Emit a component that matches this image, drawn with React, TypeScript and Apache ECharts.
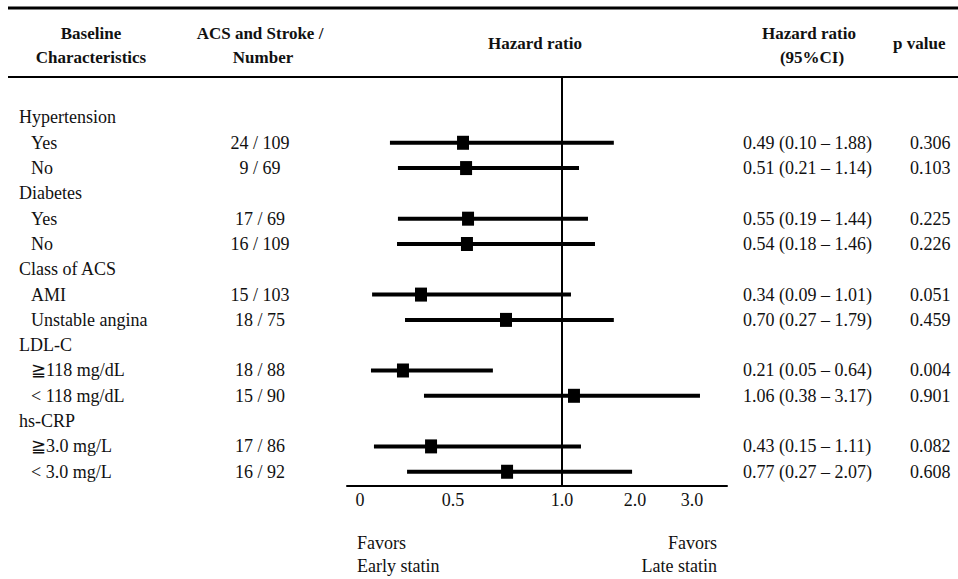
import React, { useEffect, useRef } from "react";
import * as echarts from "echarts";

// ---- Data ----
const groupNames = ["Hypertension", "Diabetes", "Class of ACS", "LDL-C", "hs-CRP"];
const subgroupNames = [
  "Yes", "No",
  "Yes", "No",
  "AMI", "Unstable angina",
  "≧118 mg/dL", "< 118 mg/dL",
  "≧3.0 mg/L", "< 3.0 mg/L",
];
const eventsNumber = [
  "24 / 109", "9 / 69", "17 / 69", "16 / 109", "15 / 103",
  "18 / 75", "18 / 88", "15 / 90", "17 / 86", "16 / 92",
];
const hrText = [
  "0.49 (0.10 – 1.88)", "0.51 (0.21 – 1.14)", "0.55 (0.19 – 1.44)",
  "0.54 (0.18 – 1.46)", "0.34 (0.09 – 1.01)", "0.70 (0.27 – 1.79)",
  "0.21 (0.05 – 0.64)", "1.06 (0.38 – 3.17)", "0.43 (0.15 – 1.11)",
  "0.77 (0.27 – 2.07)",
];
const pValues = [
  "0.306", "0.103", "0.225", "0.226", "0.051",
  "0.459", "0.004", "0.901", "0.082", "0.608",
];
// positions of the drawn marks, read against the drawn hazard-ratio axis
const hrMarker = [0.546, 0.56, 0.569, 0.564, 0.328, 0.743, 0.231, 1.164, 0.382, 0.748];
const ciLow = [0.161, 0.204, 0.204, 0.199, 0.065, 0.242, 0.059, 0.344, 0.075, 0.253];
const ciHigh = [1.71, 1.233, 1.356, 1.452, 1.123, 1.71, 0.683, 3.14, 1.26, 1.96];
// axis tick labels of the hand-drawn hazard-ratio axis
const tickValues = [0, 0.5, 1.0, 2.0, 3.0];
const tickLabels = ["0", "0.5", "1.0", "2.0", "3.0"];

// ---- scale of the drawn axis (piecewise; tick value -> axis units) ----
const tickUnits = [0, 93, 202, 275, 332];
function toAxis(v: number): number {
  for (let i = 0; i < tickValues.length - 1; i++) {
    if (v <= tickValues[i + 1] || i === tickValues.length - 2) {
      const t = (v - tickValues[i]) / (tickValues[i + 1] - tickValues[i]);
      return tickUnits[i] + t * (tickUnits[i + 1] - tickUnits[i]);
    }
  }
  return 0;
}

const FONT = "'Liberation Serif', 'Times New Roman', serif";
const headingRows = groupNames.map((_, g) => g * 3);
const subRows = subgroupNames.map((_, i) => Math.floor(i / 2) * 3 + 1 + (i % 2));

export default function App() {
  const ref = useRef<HTMLDivElement>(null);
  useEffect(() => {
    if (!ref.current) return;
    const chart = echarts.init(ref.current, null, { renderer: "svg" });

    const yBase = {
      type: "value" as const,
      min: -1.56,
      max: 14.565,
      inverse: true,
      gridIndex: 0,
      axisLine: { show: false },
      axisTick: { show: false },
      splitLine: { show: false },
    };
    const lbl = { fontFamily: FONT, fontSize: 18, color: "#111" };

    const forestData = hrMarker.map((m, i) => [
      toAxis(ciLow[i]),
      toAxis(ciHigh[i]),
      toAxis(m),
      subRows[i],
    ]);

    const option: any = {
      animation: false,
      backgroundColor: "#fff",
      grid: { left: 347, top: 78, width: 380, height: 408, containLabel: false },
      xAxis: {
        type: "value",
        min: -13,
        max: 367,
        position: "bottom",
        axisLine: { show: true, onZero: false, lineStyle: { color: "#000", width: 2 } },
        axisTick: { show: false },
        splitLine: { show: false },
        axisLabel: {
          ...lbl,
          margin: 5,
          customValues: tickValues.map(toAxis),
          formatter: (v: number) => {
            let best = 0;
            tickValues.forEach((t, i) => {
              if (Math.abs(toAxis(t) - v) < Math.abs(toAxis(tickValues[best]) - v)) best = i;
            });
            return tickLabels[best];
          },
        },
      },
      yAxis: [
        {
          ...yBase,
          position: "left",
          axisLabel: {
            ...lbl, align: "left", margin: 328,
            customValues: headingRows,
            formatter: (v: number) => groupNames[Math.round(v / 3)] ?? "",
          },
        },
        {
          ...yBase,
          position: "left",
          axisLabel: {
            ...lbl, align: "left", margin: 316,
            customValues: subRows,
            formatter: (v: number) => subgroupNames[subRows.indexOf(Math.round(v))] ?? "",
          },
        },
        {
          ...yBase,
          position: "left",
          axisLabel: {
            ...lbl, align: "center", margin: 87,
            customValues: subRows,
            formatter: (v: number) => eventsNumber[subRows.indexOf(Math.round(v))] ?? "",
          },
        },
        {
          ...yBase,
          position: "right",
          axisLabel: {
            ...lbl, align: "left", margin: 16,
            customValues: subRows,
            formatter: (v: number) => hrText[subRows.indexOf(Math.round(v))] ?? "",
          },
        },
        {
          ...yBase,
          position: "right",
          axisLabel: {
            ...lbl, align: "left", margin: 183,
            customValues: subRows,
            formatter: (v: number) => pValues[subRows.indexOf(Math.round(v))] ?? "",
          },
        },
      ],
      series: [
        {
          type: "custom",
          xAxisIndex: 0,
          yAxisIndex: 0,
          encode: { x: [0, 1, 2], y: 3 },
          data: forestData,
          silent: true,
          renderItem: (params: any, api: any) => {
            const row = api.value(3);
            const pLo = api.coord([api.value(0), row]);
            const pHi = api.coord([api.value(1), row]);
            const pM = api.coord([api.value(2), row]);
            return {
              type: "group",
              children: [
                {
                  type: "line",
                  shape: { x1: pLo[0], y1: pLo[1], x2: pHi[0], y2: pHi[1] },
                  style: { stroke: "#000", lineWidth: 4 },
                },
                {
                  type: "rect",
                  shape: { x: pM[0] - 6, y: pM[1] - 7, width: 12, height: 14 },
                  style: { fill: "#000" },
                },
              ],
            };
          },
          markLine: {
            silent: true,
            symbol: "none",
            label: { show: false },
            lineStyle: { color: "#000", width: 2, type: "solid" },
            data: [{ xAxis: toAxis(1.0) }],
          },
        },
      ],
      graphic: [
        { type: "line", shape: { x1: 8, y1: 8, x2: 958, y2: 8 }, style: { stroke: "#000", lineWidth: 3 } },
        { type: "line", shape: { x1: 8, y1: 77, x2: 958, y2: 77 }, style: { stroke: "#000", lineWidth: 2 } },
        ...[
          ["Baseline", 91, 33, "center"],
          ["Characteristics", 91, 57, "center"],
          ["ACS and Stroke /", 260, 33, "center"],
          ["Number", 263, 57, "center"],
          ["Hazard ratio", 535, 43, "center"],
          ["Hazard ratio", 809, 33, "center"],
          ["(95%CI)", 812, 57, "center"],
          ["p value", 893, 43, "left"],
        ].map(([t, x, y, a]) => ({
          type: "text",
          x,
          y,
          style: {
            text: t,
            font: `bold 17px ${FONT}`,
            fill: "#111",
            align: a,
            verticalAlign: "middle",
          },
        })),
        ...[
          ["Favors", 357, 543, "left"],
          ["Early statin", 357, 566, "left"],
          ["Favors", 717, 543, "right"],
          ["Late statin", 717, 566, "right"],
        ].map(([t, x, y, a]) => ({
          type: "text",
          x,
          y,
          style: {
            text: t,
            font: `18px ${FONT}`,
            fill: "#111",
            align: a,
            verticalAlign: "middle",
          },
        })),
      ],
    };
    chart.setOption(option);
    return () => chart.dispose();
  }, []);
  return (
    <div
      ref={ref}
      style={{ position: "fixed", left: 0, top: 0, width: 958, height: 579 }}
    />
  );
}
